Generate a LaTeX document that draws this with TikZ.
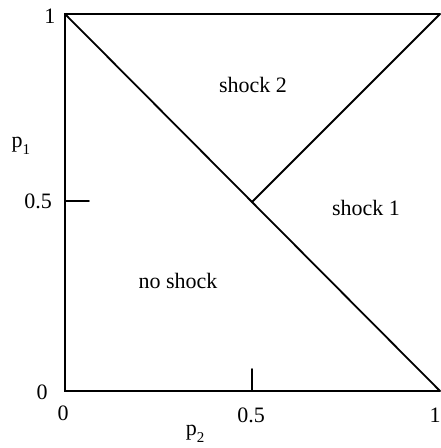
\documentclass[tikz,border=0pt]{standalone}
\usepackage{fontspec}
\setmainfont{Liberation Serif}
\begin{document}
\begin{tikzpicture}[x=1pt,y=-1pt,
  edge/.style={line width=1.8pt, line cap=round},
  lbl/.style={inner sep=0pt, font=\fontsize{22}{22}\selectfont}]
\useasboundingbox (0,0) rectangle (441,448);
\coordinate (TL) at (65,14);
\coordinate (TR) at (440,14);
\coordinate (BL) at (65,391);
\coordinate (BR) at (440,391);
\coordinate (M) at (252,202);
\coordinate (tx0) at (252,391);
\coordinate (tx1) at (252,369);
\coordinate (ty0) at (65,201);
\coordinate (ty1) at (89,201);
\draw[edge] (TR) -- (TL) -- (BL) -- (BR);
\draw[edge] (TL) -- (BR);
\draw[edge] (M) -- (TR);
\draw[edge] (tx0) -- (tx1);
\draw[edge] (ty0) -- (ty1);
\node[lbl] (one1) at (50,16) {1};
\node[lbl] (p1) at (21,146) {p\raisebox{-0.3em}{\fontsize{15}{15}\selectfont 1}};
\node[lbl] (half1) at (38,201) {0.5};
\node[lbl] (zero1) at (42,392) {0};
\node[lbl] (zero2) at (63,413) {0};
\node[lbl] (half2) at (251,415) {0.5};
\node[lbl] (one2) at (435,415) {1};
\node[lbl] (p2) at (195,434) {p\raisebox{-0.3em}{\fontsize{15}{15}\selectfont 2}};
\node[lbl] (s2) at (253,85) {shock 2};
\node[lbl] (s1) at (366,208) {shock 1};
\node[lbl] (ns) at (178,281) {no shock};
\end{tikzpicture}
\end{document}
